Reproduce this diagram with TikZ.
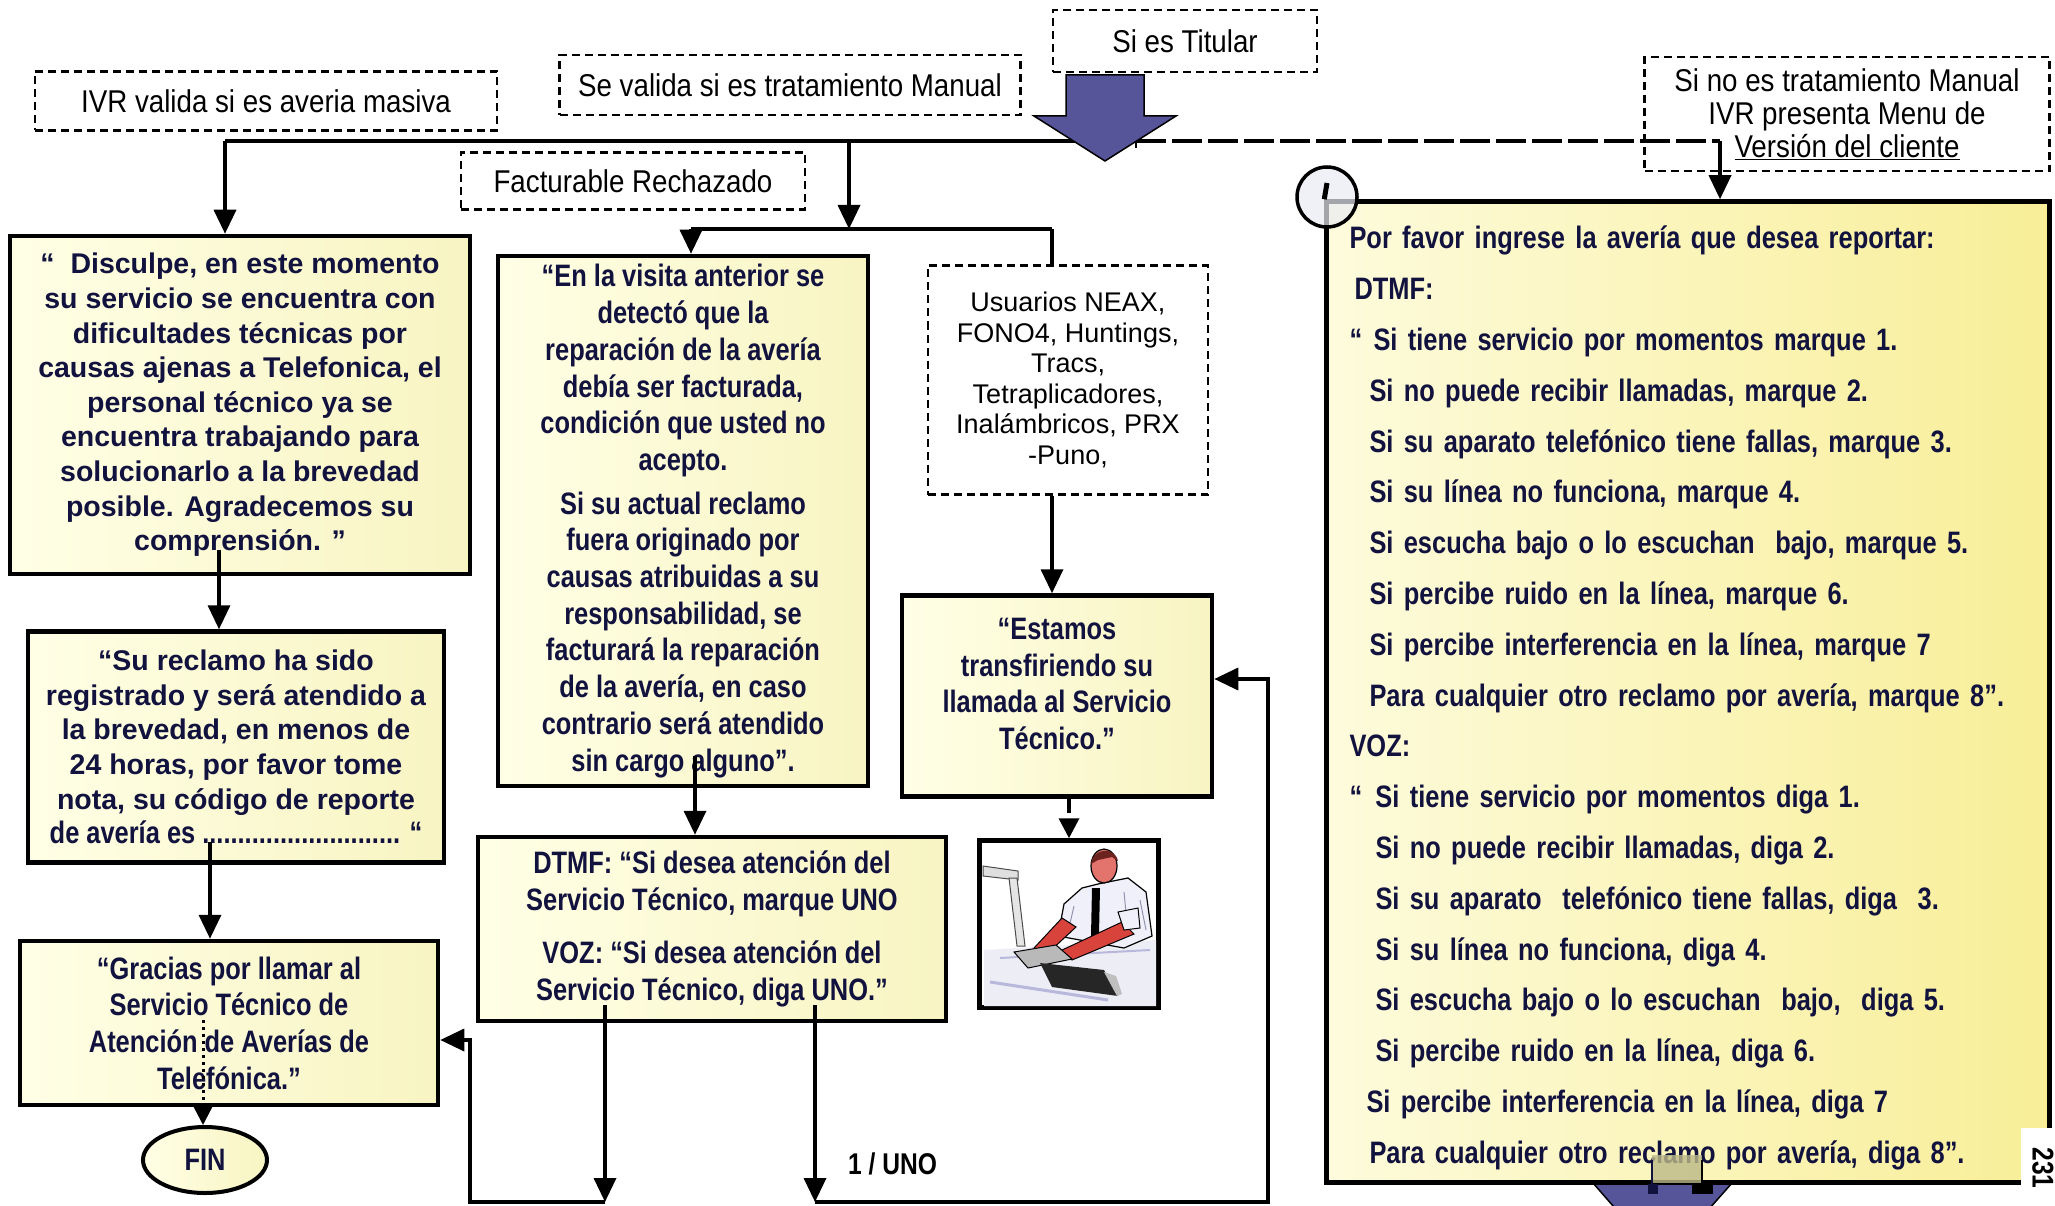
\documentclass[tikz,border=0pt]{standalone}
\usepackage{fontspec}
\setmainfont{Liberation Sans}
\newfontfamily\nrw[FakeStretch=0.82]{Liberation Sans}
\newfontfamily\nrwc[FakeStretch=0.88]{Liberation Sans}
\usetikzlibrary{arrows.meta,calc,shapes.geometric}

\definecolor{ink}{HTML}{12123F}
\definecolor{paperL}{HTML}{FFFFE6}
\definecolor{paperR}{HTML}{F8F4C2}
\definecolor{menuL}{HTML}{FDFBDC}
\definecolor{menuR}{HTML}{F8EE98}
\definecolor{slate}{HTML}{57559A}
\definecolor{skin}{HTML}{D8443C}
\definecolor{shirt}{HTML}{F0F0FA}
\definecolor{lav}{HTML}{B8B8DC}

\tikzset{
  wire/.style={line width=3.5pt},
  flow/.style={line width=3.5pt,-{Triangle[length=24pt,width=22pt]}},
  msg/.style={draw=black,line width=4.5pt,text=ink,align=center,inner sep=0pt,
    left color=paperL,right color=paperR},
  frame/.style={draw=black,line width=4.5pt,inner sep=0pt,left color=paperL,right color=paperR},
  cond/.style={draw=black,line width=2.2pt,dash pattern=on 8pt off 5pt,fill=white,
    align=center,inner sep=0pt,font={\nrwc\fontsize{31.5}{34}\selectfont}},
  widebold/.style={font={\bfseries\fontsize{28.5}{34.6}\selectfont}},
  nrwbold/.style={font={\nrw\bfseries\fontsize{31}{36.7}\selectfont}},
}

\begin{document}
\begin{tikzpicture}[x=1pt,y=-1pt]
\useasboundingbox (0,0) rectangle (2055,1206);
\fill[white] (0,0) rectangle (2055,1206);

% ---------- condition labels (dashed) ----------
\node[cond,minimum width=264pt,minimum height=62pt] (titular) at (1185,41) {Si es Titular};
\node[cond,minimum width=461pt,minimum height=60pt] (manual) at (790,85) {Se valida si es tratamiento Manual};
\node[cond,minimum width=462pt,minimum height=59pt] (ivr) at (266,101) {IVR valida si es averia masiva};
\node[cond,minimum width=344pt,minimum height=57pt] (fact) at (633,181) {Facturable Rechazado};
\node[cond,minimum width=405pt,minimum height=114pt,font={\nrwc\fontsize{31.5}{33}\selectfont}] (sino) at (1847,114)
  {Si no es tratamiento Manual\\IVR presenta Menu de\\\underline{Versión del cliente}};

% ---------- junction points ----------
\coordinate (jL) at (225,141);
\coordinate (jM) at (849,141);
\coordinate (hubL) at (1105,141);
\coordinate (hubR) at (1136,141);
\coordinate (jR) at (1720,141);
\coordinate (split) at (849,229);
\coordinate (sL) at (691,229);
\coordinate (sR) at (1052,229);

% ---------- message boxes ----------
\node[msg,widebold,minimum width=460pt,minimum height=338pt] (box1) at (240,405)
  {“\ \ Disculpe, en este momento\\su servicio se encuentra con\\dificultades técnicas por\\causas ajenas a Telefonica, el\\personal técnico ya se\\encuentra trabajando para\\solucionarlo a la brevedad\\posible. Agradecemos su\\comprensión. ”};

\node[msg,widebold,minimum width=416pt,minimum height=231pt] (su) at (236,747)
  {“Su reclamo ha sido\\registrado y será atendido a\\la brevedad, en menos de\\24 horas, por favor tome\\nota, su código de reporte\\{\nrw\fontsize{31}{34.6}\selectfont de avería es ............................ “}};

\node[msg,nrwbold,minimum width=418pt,minimum height=164pt] (gracias) at (229,1023)
  {“Gracias por llamar al\\Servicio Técnico de\\Atención de Averías de\\Telefónica.”};

\node[msg,nrwbold,ellipse,minimum width=124pt,minimum height=66pt,line width=4pt] (fin) at (205,1160) {FIN};

\node[msg,nrwbold,minimum width=370pt,minimum height=530pt] (box2) at (683,521)
  {“En la visita anterior se\\detectó que la\\reparación de la avería\\debía ser facturada,\\condición que usted no\\acepto.\\[7pt]Si su actual reclamo\\fuera originado por\\causas atribuidas a su\\responsabilidad, se\\facturará la reparación\\de la avería, en caso\\contrario será atendido\\sin cargo alguno”.};

\node[cond,minimum width=280pt,minimum height=229pt,font={\fontsize{27}{30.5}\selectfont}] (usu) at (1068,380)
  {Usuarios NEAX,\\FONO4, Huntings,\\Tracs,\\Tetraplicadores,\\Inalámbricos, PRX\\-Puno,};

\node[frame,minimum width=310pt,minimum height=201pt] (est) at (1057,696) {};
\node[nrwbold,text=ink,align=center,inner sep=0pt] (estT) at ($(est.center)+(0,-12)$)
  {“Estamos\\transfiriendo su\\llamada al Servicio\\Técnico.”};

\node[msg,nrwbold,minimum width=468pt,minimum height=184pt] (dtmf) at (712,929)
  {DTMF: “Si desea atención del\\Servicio Técnico, marque UNO\\[17pt]VOZ: “Si desea atención del\\Servicio Técnico, diga UNO.”};

\node[draw=black,line width=4.5pt,fill=white,minimum width=179pt,minimum height=167pt,inner sep=0pt] (pic) at (1069,924) {};

% ---------- lower block arrow (partly off the page) ----------
\begin{scope}
  \clip (0,0) rectangle (2055,1206);
  \filldraw[fill=slate,draw=black,line width=1.5pt] (1593,1183) -- (1732,1183) -- (1662,1262) -- cycle;
\end{scope}

% ---------- IVR menu ----------
\node[draw=black,line width=4.5pt,left color=menuL,right color=menuR,
      minimum width=723pt,minimum height=981pt,inner sep=0pt] (menu) at (1688,692) {};
\node[text=ink,inner sep=0pt,text width=677pt,align=left,anchor=center,
      font={\nrw\bfseries\fontsize{31}{50.8}\selectfont}] (menuT) at ($(menu.center)+(0,6)$)
  {Por favor ingrese la avería que desea reportar:\\
   \hspace*{5pt}DTMF:\\
   \makebox[24pt][l]{“}Si tiene servicio por momentos marque 1.\\
   \hspace*{20pt}Si no puede recibir llamadas, marque 2.\\
   \hspace*{20pt}Si su aparato telefónico tiene fallas, marque 3.\\
   \hspace*{20pt}Si su línea no funciona, marque 4.\\
   \hspace*{20pt}Si escucha bajo o lo escuchan\ \ bajo, marque 5.\\
   \hspace*{20pt}Si percibe ruido en la línea, marque 6.\\
   \hspace*{20pt}Si percibe interferencia en la línea, marque 7\\
   \hspace*{20pt}Para cualquier otro reclamo por avería, marque 8”.\\
   VOZ:\\
   \makebox[26pt][l]{“}Si tiene servicio por momentos diga 1.\\
   \hspace*{26pt}Si no puede recibir llamadas, diga 2.\\
   \hspace*{26pt}Si su aparato\ \ telefónico tiene fallas, diga\ \ 3.\\
   \hspace*{26pt}Si su línea no funciona, diga 4.\\
   \hspace*{26pt}Si escucha bajo o lo escuchan\ \ bajo,\ \ diga 5.\\
   \hspace*{26pt}Si percibe ruido en la línea, diga 6.\\
   \hspace*{17pt}Si percibe interferencia en la línea, diga 7\\
   \hspace*{20pt}Para cualquier otro reclamo por avería, diga 8”.};

% corner marker on the menu box
\coordinate (mk) at (1327,197);
\filldraw[draw=black,line width=3.5pt,fill=lav!30,fill opacity=0.7] (mk) circle (30);
\draw[line width=5pt] (mk) ++(0,-14) -- (menu.north west);

% image handle left on the menu box
\fill[olive!45!gray!60,opacity=0.8] (1652,1155) rectangle (1702,1183);
\draw[line width=2pt,ink] (1652,1160) -- (1652,1186);
\draw[line width=2pt,black] (1702,1160) -- (1702,1186);
\fill[ink] (1648,1184) rectangle (1658,1194);
\fill[black] (1692,1184) rectangle (1713,1194);

% page number
\fill[white] (2021,1128) rectangle (2055,1206);
\node[rotate=-90,font={\nrw\bfseries\fontsize{30}{30}\selectfont},inner sep=0pt] (pg) at (2043,1168) {231};

% ---------- connectors ----------
\draw[wire] (jL) -- (hubL);
\draw[line width=4pt,dash pattern=on 30pt off 6pt] (hubR) -- (jR);
\draw[line width=2.5pt] (hubR) ++(0,-7) -- ++(0,14);
\draw[flow] (jL) -- (jL |- box1.north);
\draw[flow] (jM) -- (split);
\draw[wire] (sL) -- (sR);
\draw[flow] (sL) -- (sL |- box2.north);
\draw[wire] (sR) -- (sR |- usu.north);
\draw[flow] (jR) -- (jR |- menu.north);

\coordinate (b1o) at (219,550);
\draw[flow] (b1o) -- (b1o |- su.north);
\coordinate (suo) at (210,842);
\draw[flow] (suo) -- (suo |- gracias.north);
\coordinate (gro) at (203,1020);
\draw[line width=3pt,dash pattern=on 3pt off 4pt,-{Triangle[length=22pt,width=22pt]}] (gro) -- (gro |- fin.north);

\draw[flow] (sR |- usu.south) -- (sR |- est.north);
\draw[line width=3.5pt,dash pattern=on 14pt off 10pt,-{Triangle[length=20pt,width=20pt]}] (pic.north |- est.south) -- (pic.north);

\coordinate (b2o) at (695,756);
\draw[flow] (b2o) -- (b2o |- dtmf.north);

\coordinate (d1) at (605,1005);
\coordinate (d2) at (815,1005);
\coordinate (bot1) at (605,1202);
\coordinate (bot2) at (815,1202);
\coordinate (cL) at (470,1202);
\coordinate (cLa) at (470,1040);
\coordinate (cR) at (1268,1202);
\coordinate (cRa) at (1268,679);
\draw[flow] (d1) -- (bot1);
\draw[flow] (d2) -- (bot2);
\draw[flow] (bot1) -- (cL) -- (cLa) -- (cLa -| gracias.east);
\draw[flow] (bot2) -- (cR) -- (cRa) -- (cRa -| est.east);
\node[font={\nrw\bfseries\fontsize{30}{30}\selectfont},text=black,anchor=west,inner sep=0pt] (uno) at (848,1164) {1 / UNO};

% ---------- Titular block arrow ----------
\filldraw[fill=slate,draw=black,line width=1.5pt,line join=miter]
  (1066,75) -- (1144,75) -- (1144,116) -- (1176,116) -- (1105,161) -- (1034,116) -- (1066,116) -- cycle;

% ---------- technician at the keyboard ----------
\begin{scope}
  \clip (pic.north west) ++(3,-3) rectangle ($(pic.south east)+(-3,3)$);
  \fill[lav!25] (984,950) -- (1156,940) -- (1156,1006) -- (984,1006) -- cycle;
  \draw[lav,line width=3pt] (990,982) -- (1108,1000);
  \draw[lav,line width=2pt] (1000,958) -- (1150,950);
  % lamp
  \filldraw[fill=gray!25,draw=gray!60!black,line width=1pt] (983,866) -- (1018,871) -- (1018,880) -- (983,876) -- cycle;
  \filldraw[fill=gray!20,draw=gray!60!black,line width=1pt] (1009,878) -- (1017,878) -- (1025,946) -- (1017,946) -- cycle;
  % shirt and tie
  \filldraw[fill=shirt,draw=black,line width=1.2pt] (1058,936) -- (1064,904) -- (1082,888) -- (1098,884) -- (1128,878) -- (1146,892) -- (1152,936) -- (1124,948) -- cycle;
  \draw[lav!80!black,line width=1pt] (1124,892) -- (1128,934) (1074,906) -- (1068,932) (1140,900) -- (1146,930);
  \fill[black] (1092,888) -- (1100,888) -- (1099,934) -- (1091,936) -- cycle;
  % head
  \filldraw[fill=skin!75!white,draw=black,line width=1.2pt] (1104,866) ellipse (13 and 17);
  \fill[skin!50!black] (1091,864) .. controls (1092,848) and (1115,846) .. (1118,861) -- (1112,857) -- (1098,860) -- cycle;
  % arms
  \filldraw[fill=skin,draw=black,line width=1pt] (1062,918) -- (1076,927) -- (1048,953) -- (1034,948) -- cycle;
  \filldraw[fill=skin,draw=black,line width=1pt] (1122,922) -- (1134,934) -- (1072,960) -- (1060,951) -- cycle;
  \filldraw[fill=shirt,draw=black,line width=1pt] (1118,912) -- (1138,908) -- (1140,928) -- (1124,930) -- cycle;
  % keyboard and handset
  \filldraw[fill=gray!55,draw=black,line width=1pt] (1014,952) -- (1056,945) -- (1072,959) -- (1028,968) -- cycle;
  \fill[black!85] (1040,963) -- (1104,970) -- (1118,996) -- (1052,987) -- cycle;
  \fill[gray!50] (1104,972) -- (1116,976) -- (1122,994) -- (1117,996) -- cycle;
\end{scope}
\end{tikzpicture}
\end{document}
